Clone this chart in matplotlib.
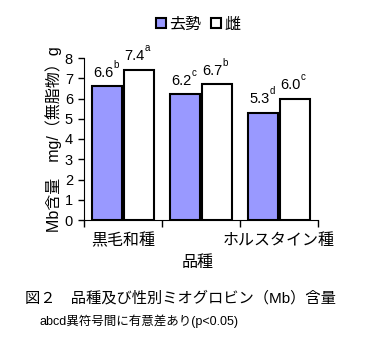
import matplotlib
matplotlib.use("Agg")
import matplotlib.pyplot as plt
from matplotlib.patches import Patch
import numpy as np

plt.rcParams['font.family'] = ['Liberation Sans', 'Noto Sans CJK JP', 'DejaVu Sans']

categories = ['黒毛和種', '', 'ホルスタイン種']
series_names = ['去勢', '雌']
castrated = [6.6, 6.2, 5.3]
female = [7.4, 6.7, 6.0]
castrated_sig = ['b', 'c', 'd']
female_sig = ['a', 'b', 'c']
colors = ['#9999FF', '#FFFFFF']

fig = plt.figure(figsize=(3.71, 3.37), dpi=100)
ax = fig.add_axes([84/371, 1-220/337, 234/371, 162/337])

x = np.arange(len(categories))
w = 0.385
offs = [-0.2, 0.2]
for vals, sig, off, col in [(castrated, castrated_sig, offs[0], colors[0]),
                            (female, female_sig, offs[1], colors[1])]:
    ax.bar(x + off, vals, width=w, color=col, edgecolor='black', linewidth=1.5, zorder=3)
    for xi, v, s in zip(x + off, vals, sig):
        ax.annotate(f'{v:.1f}', xy=(xi, v), xytext=(-3, 7), textcoords='offset points',
                    ha='center', va='baseline', fontsize=10.5)
        ax.annotate(s, xy=(xi, v), xytext=(4.5, 13.5), textcoords='offset points',
                    ha='left', va='baseline', fontsize=7)

ax.set_xlim(-0.5, 2.5)
ax.set_ylim(0, 8)
ax.set_yticks(range(0, 9))
ax.tick_params(axis='y', labelsize=10.5, length=4, width=1, direction='out', pad=4)
ax.set_xticks([-0.5, 0.5, 1.5, 2.5])
ax.set_xticklabels([])
ax.tick_params(axis='x', length=5, width=1, direction='out')
for xi, lab in zip(x, categories):
    ax.annotate(lab, xy=(xi, 0), xytext=(0, -9), textcoords='offset points',
                ha='center', va='top', fontsize=11.5)
ax.spines['top'].set_visible(False)
ax.spines['right'].set_visible(False)

ax.set_ylabel('Mb含量　mg/（無脂物）g', fontsize=11.5, labelpad=2)
fig.text(198/371, 1-263/337, '品種', ha='center', va='center', fontsize=11.5)
fig.text(25/371, 1-298/337, '図２　品種及び性別ミオグロビン（Mb）含量', ha='left', va='center', fontsize=11)
fig.text(40/371, 1-321/337, 'abcd異符号間に有意差あり(p<0.05)', ha='left', va='center', fontsize=9)

handles = [Patch(facecolor=colors[0], edgecolor='black', linewidth=1.5),
           Patch(facecolor=colors[1], edgecolor='black', linewidth=1.5)]
fig.legend(handles, series_names, loc='center', bbox_to_anchor=(198/371, 1-24/337), ncol=2,
           frameon=False, fontsize=11.5, handlelength=0.65, handleheight=0.65,
           handletextpad=0.2, columnspacing=0.6)

fig.savefig('out.png', dpi=100)
